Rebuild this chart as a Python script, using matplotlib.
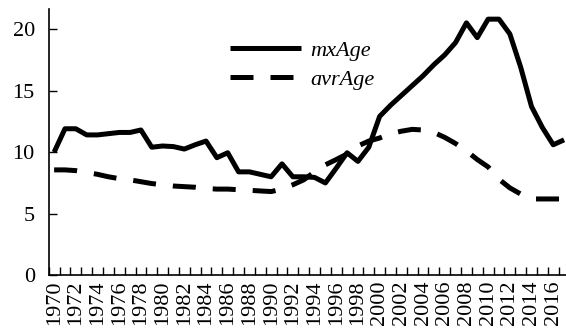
import matplotlib
matplotlib.use("Agg")
import matplotlib.pyplot as plt
from matplotlib import font_manager as fm
import numpy as np

years = list(range(1970, 2018))
mxAge = [10.0, 11.9, 11.9, 11.4, 11.4, 11.5, 11.6, 11.6, 11.8, 10.4,
         10.5, 10.45, 10.25, 10.6, 10.9, 9.55, 9.95, 8.4, 8.4, 8.2,
         8.0, 9.05, 8.0, 8.0, 7.95, 7.5, 8.7, 9.95, 9.25, 10.4,
         12.9, 13.8, 14.6, 15.4, 16.2, 17.1, 17.9, 18.9, 20.5, 19.3,
         20.8, 20.8, 19.6, 16.9, 13.7, 12.0, 10.6, 11.0]
avrAge = [8.56, 8.56, 8.5, 8.35, 8.2, 8.0, 7.85, 7.75, 7.6, 7.45,
          7.35, 7.25, 7.2, 7.15, 7.05, 7.0, 7.0, 6.95, 6.9, 6.85,
          6.8, 7.0, 7.35, 7.75, 8.4, 8.97, 9.4, 9.85, 10.5, 10.9,
          11.15, 11.5, 11.7, 11.85, 11.8, 11.6, 11.2, 10.7, 10.1, 9.4,
          8.8, 7.8, 7.1, 6.6, 6.2, 6.2, 6.2, 6.2]
series_labels = ["mxAge", "avrAge"]
y_ticks = [0, 5, 10, 15, 20]
x_label_years = list(range(1970, 2017, 2))

# locate Liberation Serif files directly
reg_path = None
it_path = None
for f in fm.findSystemFonts():
    name = f.split('/')[-1]
    if name == 'LiberationSerif-Regular.ttf':
        reg_path = f
    elif name == 'LiberationSerif-Italic.ttf':
        it_path = f
if reg_path:
    fm.fontManager.addfont(reg_path)
    fp_reg = fm.FontProperties(fname=reg_path)
else:
    fp_reg = fm.FontProperties(family='serif')
if it_path:
    fm.fontManager.addfont(it_path)
    fp_it = fm.FontProperties(fname=it_path, size=16)
else:
    fp_it = fm.FontProperties(family='serif', style='italic', size=16)

plt.rcParams['font.family'] = 'serif'
plt.rcParams['font.serif'] = ['Liberation Serif', 'DejaVu Serif']

fig = plt.figure(figsize=(5.66, 3.35), dpi=100)
ax = fig.add_axes([48.7/566, 59.7/335, (569.5-48.7)/566, (325.7-59.7)/335])

lw = 3.6
ax.plot(years, mxAge, color='black', lw=lw, solid_joinstyle='round',
        solid_capstyle='butt', label=series_labels[0])
ax.plot(years, avrAge, color='black', lw=lw, linestyle=(0, (4.6, 3.4)),
        label=series_labels[1])

ax.set_xlim(1969.5, 2017.5)
ax.set_ylim(0, 21.6)

for s in ['top', 'right']:
    ax.spines[s].set_visible(False)
for s in ['left', 'bottom']:
    ax.spines[s].set_linewidth(1.2)
    ax.spines[s].set_color('black')

ax.set_yticks(y_ticks)
ax.set_yticklabels([str(v) for v in y_ticks])
ax.tick_params(axis='y', direction='in', length=6, width=1.0, pad=10)

ax.set_xticks(x_label_years)
ax.set_xticklabels([str(y) for y in x_label_years], rotation=90)
ax.tick_params(axis='x', which='major', length=0, pad=4)
ax.set_xticks(np.arange(1969.5, 2018, 1.0), minor=True)
ax.tick_params(axis='x', which='minor', direction='in', length=6, width=1.0)

for t in ax.get_yticklabels():
    t.set_fontproperties(fp_reg)
    t.set_fontsize(16)
for t in ax.get_xticklabels():
    t.set_fontproperties(fp_reg)
    t.set_fontsize(16)

leg = ax.legend(loc='upper left', bbox_to_anchor=(230/566, 1 - 40/335),
                bbox_transform=fig.transFigure, frameon=False,
                prop=fp_it,
                handlelength=3.2, handletextpad=0.4, labelspacing=0.4,
                borderpad=0, borderaxespad=0)

fig.savefig('out.png', dpi=100)
